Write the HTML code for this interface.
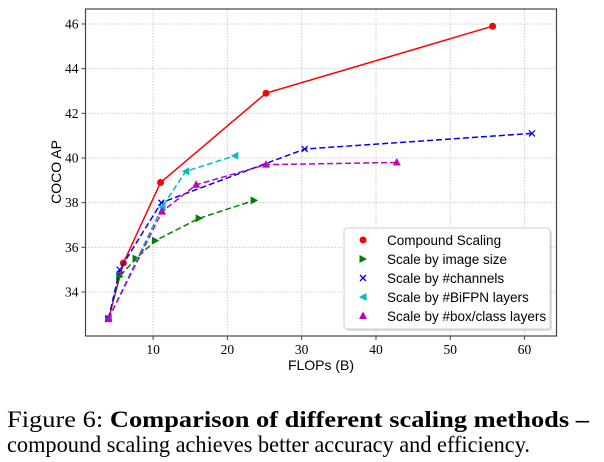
<!DOCTYPE html>
<html><head><meta charset="utf-8"><style>
body{margin:0;background:#fff;width:604px;height:462px;overflow:hidden}
svg{display:block}
</style></head><body>
<svg id="chart" width="604" height="462" xmlns="http://www.w3.org/2000/svg">
<g id="grid"></g>
<g id="series"></g>
<rect x="85.5" y="9" width="471" height="327" fill="none" stroke="#444" stroke-width="1.2"/>
<g id="ticks"></g>
<text transform="translate(61,172) rotate(-90)" text-anchor="middle" font-family="Liberation Sans, sans-serif" font-size="14">COCO AP</text>
<text x="321" y="370" text-anchor="middle" font-family="Liberation Sans, sans-serif" font-size="14">FLOPs (B)</text>
<g>
<rect x="346" y="230" width="206" height="101" rx="3" fill="#bbb" opacity="0.5"/>
<rect x="344" y="228" width="206" height="101" rx="3" fill="#fff" stroke="#ccc"/>
<g id="legend-items"></g>
</g>
<text x="7" y="427" font-family="Liberation Serif, serif" font-size="23" textLength="582" lengthAdjust="spacingAndGlyphs">Figure 6:  <tspan font-weight="bold">Comparison of different scaling methods –</tspan></text>
<text x="7" y="452" font-family="Liberation Serif, serif" font-size="23" textLength="523" lengthAdjust="spacingAndGlyphs">compound scaling achieves better accuracy and efficiency.</text>
</svg>
<script>
const xTicks=[10,20,30,40,50,60];
const yTicks=[34,36,38,40,42,44,46];
const seriesNames=["Compound Scaling","Scale by image size","Scale by #channels","Scale by #BiFPN layers","Scale by #box/class layers"];
const compoundX=[4,6,11,25.2,55.7];
const compoundY=[32.8,35.3,38.9,42.9,45.9];
const imageX=[4,5.5,7.7,10.3,16.2,23.6];
const imageY=[32.8,34.7,35.5,36.3,37.3,38.1];
const channelsX=[4,5.5,11.1,30.4,61];
const channelsY=[32.8,35.0,38.0,40.4,41.1];
const bifpnX=[4,11.2,14.4,21];
const bifpnY=[32.8,37.8,39.4,40.1];
const boxX=[4,11.2,15.8,25.2,42.8];
const boxY=[32.8,37.6,38.8,39.7,39.8];

const NS="http://www.w3.org/2000/svg";
const L=85.5,R=556.5,T=9,B=336;
const xmin=0.9,xmax=64.3,ymin=32.03,ymax=46.67;
const sx=v=>L+(v-xmin)/(xmax-xmin)*(R-L);
const sy=v=>B-(v-ymin)/(ymax-ymin)*(B-T);
function mk(tag,attrs,parent){const e=document.createElementNS(NS,tag);for(const k in attrs)e.setAttribute(k,attrs[k]);parent.appendChild(e);return e;}
const grid=document.getElementById('grid'),ticks=document.getElementById('ticks'),ser=document.getElementById('series'),leg=document.getElementById('legend-items');
xTicks.forEach(v=>{const x=sx(v);
 const g=mk('line',{x1:x,x2:x,y1:T,y2:B,stroke:'#ccc','stroke-dasharray':'1.5,1.5'},grid);
 
 mk('line',{x1:x,x2:x,y1:B,y2:B+4,stroke:'#444'},ticks);
 const t=mk('text',{x:x,y:B+18,'text-anchor':'middle','font-family':'Liberation Serif, serif','font-size':'13.5'},ticks);t.textContent=v;
 });
yTicks.forEach(v=>{const y=sy(v);
 const g=mk('line',{x1:L,x2:R,y1:y,y2:y,stroke:'#ccc','stroke-dasharray':'1.5,1.5'},grid);
 
 mk('line',{x1:L-4,x2:L,y1:y,y2:y,stroke:'#444'},ticks);
 const t=mk('text',{x:L-7,y:y+4.5,'text-anchor':'end','font-family':'Liberation Serif, serif','font-size':'13.5'},ticks);t.textContent=v;
 });
function marker(type,x,y,c,p){
 if(type==='o')return mk('circle',{cx:x,cy:y,r:3.5,fill:c},p);
 if(type==='x')return mk('path',{d:`M${x-3},${y-3}L${x+3},${y+3}M${x-3},${y+3}L${x+3},${y-3}`,stroke:c,'stroke-width':1.3},p);
 if(type==='>')return mk('path',{d:`M${x-3.5},${y-4}L${x+4},${y}L${x-3.5},${y+4}Z`,fill:c},p);
 if(type==='<')return mk('path',{d:`M${x+3.5},${y-4}L${x-4},${y}L${x+3.5},${y+4}Z`,fill:c},p);
 return mk('path',{d:`M${x},${y-4.5}L${x+4},${y+3}L${x-4},${y+3}Z`,fill:c},p);}
const defs=[[compoundX,compoundY,'red','o',''],[imageX,imageY,'green','>','6,3'],[channelsX,channelsY,'blue','x','6,3'],[bifpnX,bifpnY,'#00bfbf','<','6,3'],[boxX,boxY,'#bf00bf','^','6,3']];
defs.forEach((d,i)=>{const [xs,ys,c,m,dash]=d;
 const g=mk('g',{},ser);
 
 
 const pl=mk('polyline',{points:xs.map((x,j)=>sx(x)+','+sy(ys[j])).join(' '),fill:'none',stroke:c,'stroke-width':1.5,'stroke-dasharray':dash},g);
 
 xs.forEach((x,j)=>{const mm=marker(m,sx(x),sy(ys[j]),c,g);});
 const ly=240+i*19;
 const lm=marker(m,363,ly,c,leg);
 const t=mk('text',{x:387,y:ly+5,'font-family':'Liberation Sans, sans-serif','font-size':'13.5'},leg);t.textContent=seriesNames[i];
 });
</script>
</body></html>
